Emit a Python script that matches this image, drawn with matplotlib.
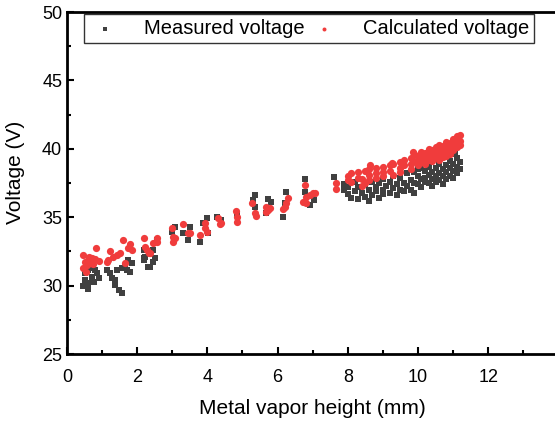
import matplotlib.pyplot as plt

plt.rcParams['font.family'] = ['Liberation Sans', 'DejaVu Sans']

# measured voltage (dark squares)
meas_x = [0.52, 0.61, 0.71, 0.80, 0.90, 0.52, 0.61, 0.61, 0.76, 0.71, 0.47, 0.85,
          1.14, 1.23, 1.28, 1.37, 1.37, 1.47, 1.56, 1.42, 1.56, 1.66, 1.70, 1.80, 1.85, 1.75,
          2.18, 2.18, 2.32, 2.22, 2.20, 2.37, 2.44, 2.51, 2.56, 2.46,
          3.08, 2.98, 3.31, 3.45, 3.50, 3.79, 3.98, 3.88, 4.02, 4.26, 4.40, 4.83,
          5.35, 5.30, 5.35, 5.73, 5.80, 5.68, 6.23, 6.15, 6.20, 6.77, 6.77, 6.91, 7.05, 7.62,
          7.9, 7.9, 8.0, 8.0, 8.1, 8.2, 8.2, 8.3, 8.3, 8.4, 8.5, 8.5, 8.6, 8.6, 8.7, 8.7,
          8.8, 8.8, 8.9, 8.9, 9.0, 9.0, 9.0, 9.1, 9.2, 9.2, 9.3, 9.3, 9.4, 9.4, 9.5, 9.5,
          9.6, 9.6, 9.7, 9.7, 9.8, 9.8, 9.9, 9.9, 9.9, 10.0, 10.0, 10.0, 10.1, 10.1, 10.1,
          10.2, 10.2, 10.2, 10.3, 10.3, 10.3, 10.4, 10.4, 10.4, 10.5, 10.5, 10.5,
          10.6, 10.6, 10.6, 10.7, 10.7, 10.7, 10.8, 10.8, 10.8, 10.9, 10.9, 10.9,
          11.0, 11.0, 11.0, 11.1, 11.1, 11.1, 11.2, 11.2, 10.55, 10.85, 11.05, 10.25]
meas_y = [30.90, 31.14, 31.26, 31.14, 30.53, 30.41, 30.17, 29.73, 30.29, 30.65, 30.0, 30.9,
          31.14, 30.90, 30.53, 30.41, 30.04, 29.68, 29.44, 31.14, 31.26, 31.38, 31.14, 31.00, 31.63, 31.87,
          32.60, 32.00, 31.38, 32.11, 31.87, 31.38, 31.75, 32.00, 33.33, 32.60,
          34.31, 33.94, 33.82, 33.33, 34.26, 33.21, 34.92, 34.55, 33.82, 35.04, 34.80, 35.16,
          36.62, 36.26, 35.77, 36.31, 36.13, 35.29, 36.87, 35.04, 36.02, 37.79, 36.87, 35.89, 36.26, 37.96,
          37.4, 37.0, 36.7, 37.2, 36.4, 37.6, 36.9, 36.3, 37.2, 36.8, 37.4, 36.5, 36.2, 37.0, 37.6, 36.6,
          37.2, 36.9, 36.4, 37.5, 37.8, 37.0, 36.7, 37.3, 36.8, 37.6, 38.0, 37.1, 36.6, 37.4, 37.9, 37.0,
          37.5, 36.9, 38.2, 37.3, 37.7, 37.0, 38.3, 37.5, 36.8, 38.0, 37.4, 38.5, 37.8, 37.2, 38.6,
          38.4, 37.6, 37.9, 38.1, 37.5, 38.7, 38.3, 37.8, 37.3, 38.6, 38.0, 37.6,
          38.9, 38.2, 37.7, 38.5, 38.0, 37.4, 38.8, 38.3, 37.8, 39.1, 38.6, 38.0,
          38.9, 38.4, 37.9, 39.3, 38.7, 38.2, 39.0, 38.5, 39.3, 39.5, 39.6, 39.0]

# calculated voltage (red dots)
calc_x = [0.47, 0.83, 0.52, 0.61, 0.71, 0.80, 0.90, 0.57, 0.66, 0.55, 0.45, 0.75, 0.62,
          1.23, 1.59, 1.80, 1.85, 1.75, 1.51, 1.42, 1.32, 1.18, 1.14, 1.66, 2.18, 2.35,
          2.22, 2.27, 2.37, 2.46, 2.56, 2.57, 2.98, 3.03, 3.03, 3.08, 3.31, 3.45, 3.50,
          3.79, 3.93, 3.93, 3.98, 4.31, 4.36, 4.40, 4.81, 4.83, 4.83,
          5.28, 5.35, 5.38, 5.68, 5.73, 5.78, 5.66, 6.15, 6.20, 6.25, 6.30,
          6.72, 6.77, 6.82, 6.91, 7.01, 7.08, 6.82, 7.65, 7.65,
          8.0, 8.0, 8.1, 8.1, 8.3, 8.3, 8.4, 8.4, 8.5, 8.5, 8.6, 8.6, 8.6,
          8.8, 8.8, 8.8, 9.0, 9.0, 9.0, 9.2, 9.2, 9.3, 9.3, 9.5, 9.5, 9.5,
          9.6, 9.6, 9.8, 9.8, 9.8, 9.9, 9.9, 10.0, 10.0, 10.0, 10.1, 10.1, 10.1,
          10.2, 10.2, 10.2, 10.3, 10.3, 10.3, 10.4, 10.4, 10.4, 10.5, 10.5, 10.5,
          10.6, 10.6, 10.6, 10.6, 10.7, 10.7, 10.7, 10.8, 10.8, 10.8, 10.8,
          10.9, 10.9, 10.9, 11.0, 11.0, 11.0, 11.1, 11.1, 11.1, 11.2, 11.2, 11.2,
          8.62, 9.27, 9.87]
calc_y = [32.24, 32.77, 31.75, 31.87, 32.00, 31.92, 31.82, 31.50, 31.67, 31.00, 31.3, 31.6, 32.1,
          32.53, 33.33, 33.04, 32.60, 32.73, 32.36, 32.24, 32.11, 31.87, 31.75, 31.67, 33.50, 32.36,
          32.84, 32.60, 32.41, 33.09, 33.21, 33.50, 34.19, 33.57, 33.21, 33.45, 34.48, 33.82, 33.82,
          33.70, 34.55, 34.19, 33.94, 34.92, 34.48, 34.55, 35.45, 35.04, 34.67,
          36.02, 35.29, 35.09, 35.77, 35.53, 35.65, 35.40, 35.58, 35.77, 36.02, 36.38,
          36.13, 37.35, 36.50, 36.62, 36.75, 36.75, 36.02, 37.48, 37.04,
          37.7, 38.0, 38.2, 37.6, 37.9, 38.3, 37.3, 37.8, 38.4, 37.5, 38.5, 38.1, 37.7,
          38.6, 38.2, 37.9, 38.7, 38.3, 38.0, 38.8, 38.4, 38.9, 38.1, 39.0, 38.6, 38.3,
          39.2, 38.8, 39.3, 38.9, 38.5, 39.6, 39.1, 39.5, 39.2, 38.8, 39.8, 39.4, 39.0,
          39.7, 39.3, 38.9, 40.0, 39.6, 39.2, 39.9, 39.5, 39.1, 40.1, 39.8, 39.4,
          40.3, 39.9, 39.5, 39.2, 40.2, 39.7, 39.4, 40.5, 40.1, 39.8, 39.5,
          40.4, 40.0, 39.6, 40.7, 40.3, 39.9, 40.9, 40.5, 40.1, 41.0, 40.6, 40.3,
          38.8, 38.96, 39.77]

fig = plt.figure(figsize=(5.55, 4.23), dpi=100)
ax = fig.add_axes([0.1207, 0.1631, 0.8854, 0.8085])

ax.scatter(meas_x, meas_y, marker='s', s=20, color='#404040', linewidths=0,
           label='Measured voltage', zorder=2)
ax.scatter(calc_x, calc_y, marker='o', s=27, color='#F03C3C', linewidths=0,
           label='Calculated voltage', zorder=3)

ax.set_xlim(0, 14)
ax.set_ylim(25, 50)
ax.set_xticks([0, 2, 4, 6, 8, 10, 12])
ax.set_xticks(range(1, 14, 2), minor=True)
ax.set_yticks([25, 30, 35, 40, 45, 50])
ax.set_yticks([27.5, 32.5, 37.5, 42.5, 47.5], minor=True)
ax.tick_params(which='both', direction='in', width=1.5, labelsize=13)
ax.tick_params(which='major', length=5)
ax.tick_params(which='minor', length=3)
ax.tick_params(axis='x', which='both', pad=11)
for side in ['left', 'bottom', 'top', 'right']:
    ax.spines[side].set_linewidth(2)

ax.set_xlabel('Metal vapor height (mm)', fontsize=15, labelpad=9)
ax.set_ylabel('Voltage (V)', fontsize=15)
ax.yaxis.set_label_coords(-0.085, 0.53)

leg = ax.legend(ncol=2, loc='upper left', bbox_to_anchor=(0.035, 0.994),
                borderaxespad=0, fontsize=14.5, frameon=True, fancybox=False,
                edgecolor='black', markerscale=0.55, handletextpad=1.1,
                columnspacing=0.2, borderpad=0.25, handlelength=1.6)
leg.get_frame().set_linewidth(1.0)

fig.savefig('out.png', dpi=100)
